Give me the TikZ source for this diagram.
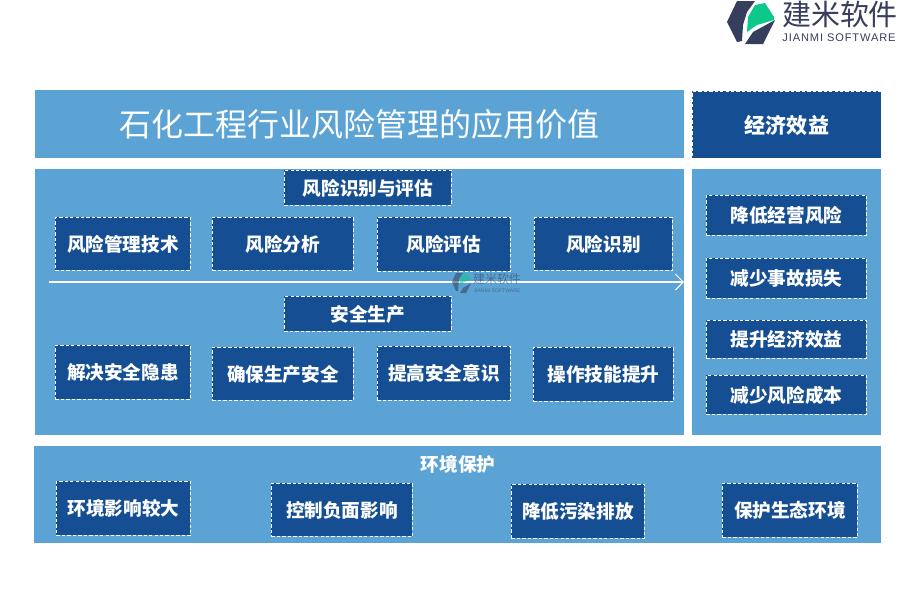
\documentclass[tikz,border=0pt]{standalone}
\usepackage{fontspec}
\setmainfont{Noto Sans CJK SC}
\newfontfamily\logolatin{Liberation Sans}
\usetikzlibrary{arrows.meta}
\definecolor{panelblue}{HTML}{5BA3D5}
\definecolor{boxblue}{HTML}{154E92}
\definecolor{logodark}{HTML}{353E5C}
\definecolor{logogreen}{HTML}{0CC98B}

\begin{document}
\begin{tikzpicture}[
    x=0.02cm, y=-0.02cm,
    panel/.style={fill=panelblue, anchor=north west, inner sep=0pt},
    item/.style={
        fill=boxblue, draw=white, line width=0.55pt,
        dash pattern=on 1.9pt off 1.2pt,
        text=white, font=\fontsize{10.6}{12}\selectfont\bfseries,
        anchor=north west, inner sep=0pt
    },
    arrow/.style={-{Straight Barb[length=4.5pt,width=9pt]}, draw=white, line width=0.6pt}
]

% ===== BACKGROUND =====
\useasboundingbox (0,0) rectangle (900,600);

% ===== PANELS =====
\node[panel, minimum width=13cm-0.02cm, minimum height=1.36cm, text=white, font=\fontsize{18.2}{20}\selectfont] (title) at (35,90) {石化工程行业风险管理的应用价值};
\node[panel, minimum width=12.98cm, minimum height=5.32cm] (mainpanel) at (35,169) {};
\node[panel, minimum width=3.78cm, minimum height=5.32cm] (sidepanel) at (692,169) {};
\node[panel, minimum width=16.94cm, minimum height=1.94cm] (envpanel) at (34,446) {};

\node[item, minimum width=3.78cm, minimum height=1.34cm, font=\fontsize{12}{14}\selectfont\bfseries] (benefit) at (692,91) {经济效益};

% ===== RISK ROW =====
\node[item, minimum width=3.34cm, minimum height=0.7cm] (identhead) at (284,170) {风险识别与评估};
\node[item, minimum width=2.7cm, minimum height=1.06cm] (tech) at (55,217) {风险管理技术};
\node[item, minimum width=2.82cm, minimum height=1.06cm] (analysis) at (212,217) {风险分析};
\node[item, minimum width=2.66cm, minimum height=1.08cm] (assess) at (377,217) {风险评估};
\node[item, minimum width=2.76cm, minimum height=1.06cm] (ident) at (534,217) {风险识别};

% ===== SAFETY ROW =====
\node[item, minimum width=3.34cm, minimum height=0.7cm] (safehead) at (284,296) {安全生产};
\node[item, minimum width=2.7cm, minimum height=1.08cm] (hazard) at (55,345) {解决安全隐患};
\node[item, minimum width=2.82cm, minimum height=1.06cm] (ensure) at (212,347) {确保生产安全};
\node[item, minimum width=2.66cm, minimum height=1.08cm] (aware) at (377,346) {提高安全意识};
\node[item, minimum width=2.8cm, minimum height=1.08cm] (skill) at (533,347) {操作技能提升};

% ===== SIDE COLUMN =====
\node[item, minimum width=3.2cm, minimum height=0.8cm] (lowerrisk) at (706,195) {降低经营风险};
\node[item, minimum width=3.2cm, minimum height=0.8cm] (lessloss) at (706,258) {减少事故损失};
\node[item, minimum width=3.2cm, minimum height=0.76cm] (morebenefit) at (706,320) {提升经济效益};
\node[item, minimum width=3.2cm, minimum height=0.78cm] (lesscost) at (706,375) {减少风险成本};

% ===== ENVIRONMENT ROW =====
\node[text=white, font=\fontsize{10.6}{12}\selectfont\bfseries, inner sep=0pt] (envhead) at (458,464) {环境保护};
\node[item, minimum width=2.68cm, minimum height=1.08cm] (impact) at (56,481) {环境影响较大};
\node[item, minimum width=2.82cm, minimum height=1.06cm] (control) at (271,483) {控制负面影响};
\node[item, minimum width=2.66cm, minimum height=1.08cm] (pollute) at (511,484) {降低污染排放};
\node[item, minimum width=2.7cm, minimum height=1.08cm] (ecology) at (722,483) {保护生态环境};

% ===== ARROW =====
\coordinate (arrowstart) at (49,282);
\coordinate (arrowend) at (684,282);
\draw[arrow] (arrowstart) -- (arrowend);

% ===== WATERMARK =====
\begin{scope}[opacity=0.55]
\fill[logodark] (452,282) -- (456,273) -- (463,273) -- (459,279) -- (458,291) -- (456,291) -- cycle;
\fill[logodark] (460,293) -- (463,288) -- (471,283) -- (466,293) -- cycle;
\fill[logogreen] (459,286) -- (460,279) -- (463,274) -- (467,273) -- (471,280) -- (464,282) -- cycle;
\node[text=logodark, font=\fontsize{6.8}{8}\selectfont, inner sep=0pt] (wmname) at (497,279) {建米软件};
\node[text=logodark, font=\fontsize{2.9}{3}\selectfont\logolatin, inner sep=0pt] (wmlatin) at (497,291) {JIANMI SOFTWARE};
\end{scope}

% ===== LOGO =====
\fill[logodark] (727,22) -- (737,1) -- (755,1) -- (747,12) -- (743,25) -- (742,41) -- (737,42) -- cycle;
\fill[logodark] (745,44) -- (753,32) -- (775,20) -- (763,44) -- cycle;
\fill[logogreen] (747,32) -- (748,17) -- (755,5) -- (765,3) -- (774,17) -- (774,20) -- (757,25) -- cycle;
\node[text=logodark, font=\fontsize{16.5}{18}\selectfont, inner sep=0pt] (logoname) at (840,14) {建米软件};
\node[text=logodark, font=\fontsize{6.3}{8}\selectfont\logolatin, inner sep=0pt] (logolatin) at (839,38) {\addfontfeature{LetterSpace=8}JIANMI SOFTWARE};

\end{tikzpicture}
\end{document}
